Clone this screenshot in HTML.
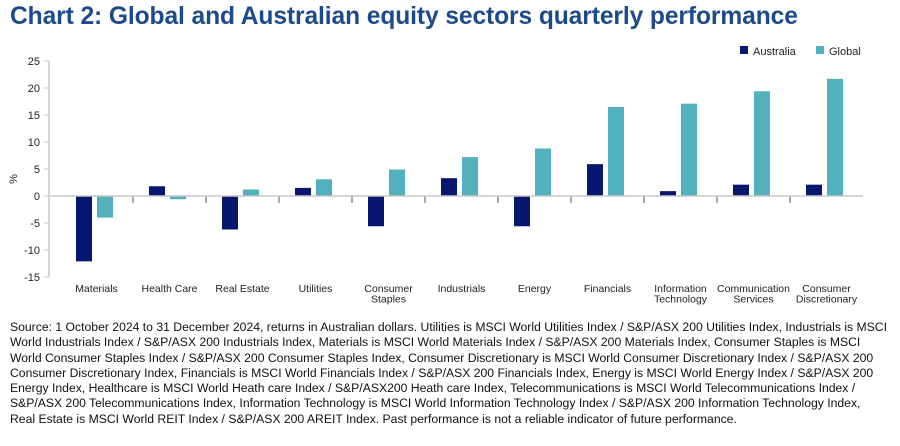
<!DOCTYPE html>
<html><head><meta charset="utf-8"><style>
body{margin:0;width:900px;height:446px;background:#fff;font-family:"Liberation Sans",sans-serif;overflow:hidden;position:relative}
#title{position:absolute;left:10px;top:3px;font-size:24.6px;font-weight:bold;color:#1d4a8c;white-space:nowrap;letter-spacing:-0.1px}
#note{position:absolute;left:10px;top:320px;width:878px;font-size:12.2px;line-height:15.3px;color:#111}
svg{position:absolute;left:0;top:0}
</style></head><body>
<div id="title">Chart 2: Global and Australian equity sectors quarterly performance</div>
<svg id="chart" width="900" height="320"></svg>
<div id="note">Source: 1 October 2024 to 31 December 2024, returns in Australian dollars. Utilities is MSCI World Utilities Index / S&amp;P/ASX 200 Utilities Index, Industrials is MSCI World Industrials Index / S&amp;P/ASX 200 Industrials Index, Materials is MSCI World Materials Index / S&amp;P/ASX 200 Materials Index, Consumer Staples is MSCI World Consumer Staples Index / S&amp;P/ASX 200 Consumer Staples Index, Consumer Discretionary is MSCI World Consumer Discretionary Index / S&amp;P/ASX 200 Consumer Discretionary Index, Financials is MSCI World Financials Index / S&amp;P/ASX 200 Financials Index, Energy is MSCI World Energy Index / S&amp;P/ASX 200 Energy Index, Healthcare is MSCI World Heath care Index / S&amp;P/ASX200 Heath care Index, Telecommunications is MSCI World Telecommunications Index / S&amp;P/ASX 200 Telecommunications Index, Information Technology is MSCI World Information Technology Index / S&amp;P/ASX 200 Information Technology Index, Real Estate is MSCI World REIT Index / S&amp;P/ASX 200 AREIT Index. Past performance is not a reliable indicator of future performance.</div>
<script>
const categories=[["Materials"],["Health Care"],["Real Estate"],["Utilities"],["Consumer","Staples"],["Industrials"],["Energy"],["Financials"],["Information","Technology"],["Communication","Services"],["Consumer","Discretionary"]];
const australia=[-12.1,1.8,-6.2,1.5,-5.6,3.3,-5.6,5.9,0.9,2.1,2.1];
const global=[-4.0,-0.6,1.2,3.1,4.9,7.2,8.8,16.5,17.1,19.4,21.7];
const yTicks=[25,20,15,10,5,0,-5,-10,-15];
const NS="http://www.w3.org/2000/svg";
const svg=document.getElementById('chart');
const x0=60,x1=863,yTop=61,yBot=277,vMax=25,vMin=-15;
const band=(x1-x0)/categories.length;
function y(v){return yTop+(vMax-v)*(yBot-yTop)/(vMax-vMin);}
function xc(i){return x0+band*(i+0.5);}
function mk(tag,a){const e=document.createElementNS(NS,tag);for(const k in a)e.setAttribute(k,a[k]);svg.appendChild(e);return e;}
const ax=mk('line',{x1:49,x2:49,y1:yTop,y2:yBot,stroke:'#c8c8c8','stroke-width':1.5});


yTicks.forEach(t=>{
 const l=mk('line',{x1:44,x2:49,y1:y(t),y2:y(t),stroke:'#c8c8c8'});
 
 
 const tx=mk('text',{x:40,y:y(t)+4,'text-anchor':'end','font-size':11,fill:'#222'});
 tx.textContent=t;
 
 
});
const yt=mk('text',{transform:'translate(17,'+(y(5)+10)+') rotate(-90)','font-size':11,fill:'#222','text-anchor':'middle'});
yt.textContent='%';


const bw=16,gap=5;
categories.forEach((c,i)=>{
 const cx=xc(i)-2;
 [[australia[i],'#07166e',cx-gap/2-bw,'bar-australia'],[global[i],'#51b1bf',cx+gap/2,'bar-global']].forEach(([v,col,bx,nm])=>{
  const r=mk('rect',{x:bx,y:Math.min(y(v),y(0)),width:bw,height:Math.abs(y(v)-y(0)),fill:col});
  
  
 });
 if(i>0){const tk=mk('line',{x1:x0+band*i,x2:x0+band*i,y1:y(0),y2:y(0)+7,stroke:'#555'});
  
  }
 c.forEach((s,j)=>{const t=mk('text',{x:xc(i),y:292+j*10.5,'text-anchor':'middle','font-size':10.5,fill:'#222'});t.textContent=s;
  
  });
});
const zl=mk('line',{x1:49,x2:863,y1:y(0),y2:y(0),stroke:'#c8c8c8','stroke-width':1.5});


[['Australia','#07166e',740],['Global','#51b1bf',816]].forEach(([n,c,lx])=>{
 const r=mk('rect',{x:lx,y:46,width:8,height:8,fill:c});
 
 
 const t=mk('text',{x:lx+13,y:55,'font-size':11,fill:'#222'});t.textContent=n;
 
 
});
</script>
</body></html>
